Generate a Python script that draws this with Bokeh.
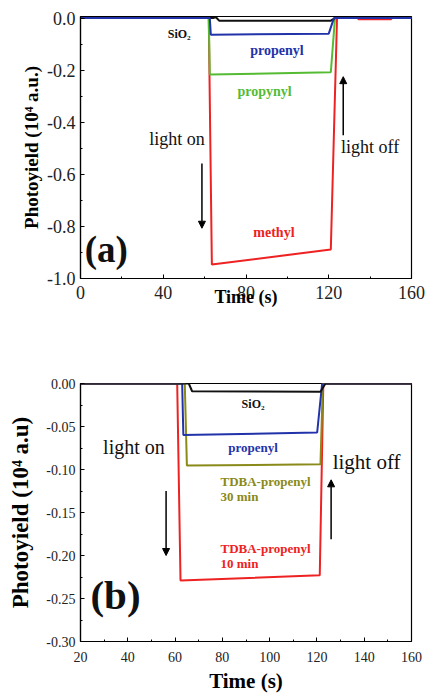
from bokeh.plotting import figure
from bokeh.layouts import column
from bokeh.models import FixedTicker, PrintfTickFormatter, Arrow, NormalHead, Label, Range1d
from bokeh.embed import file_html
from bokeh.resources import INLINE

SERIF = "Liberation Serif"

# ---------- panel (a) data ----------
a_sio2_t = [0, 64, 65.5, 67, 121, 123, 160]
a_sio2_y = [0, 0, 0.003, -0.010, -0.010, 0, 0]
a_propenyl_t = [0, 62.5, 63, 120, 122.5, 160]
a_propenyl_y = [0, 0, -0.064, -0.060, 0, 0]
a_propynyl_t = [0, 62, 62.5, 121, 123, 160]
a_propynyl_y = [0, 0, -0.217, -0.208, 0, 0]
a_methyl_t = [0, 62, 63.5, 121, 124, 134, 134.5, 150, 150.5, 160]
a_methyl_y = [0, 0, -0.946, -0.889, 0, 0, -0.005, -0.005, 0, 0]

a_xticks = [0, 40, 80, 120, 160]
a_xminor = [20, 60, 100, 140]
a_yticks = [-1.0, -0.8, -0.6, -0.4, -0.2, 0.0]
a_yminor = [-0.9, -0.7, -0.5, -0.3, -0.1]

# ---------- panel (b) data ----------
b_sio2_t = [20, 65.8, 67.2, 121.5, 123.6, 160]
b_sio2_y = [0, 0, -0.009, -0.0097, 0, 0]
b_propenyl_t = [20, 63, 63.5, 120.1, 122.2, 160]
b_propenyl_y = [0, 0, -0.060, -0.057, 0, 0]
b_tdba30_t = [20, 64.1, 65, 121.5, 122.5, 160]
b_tdba30_y = [0, 0, -0.0954, -0.094, 0, 0]
b_tdba10_t = [20, 60.9, 62.3, 121.2, 122.7, 160]
b_tdba10_y = [0, 0, -0.229, -0.223, 0, 0]

b_xticks = [20, 40, 60, 80, 100, 120, 140, 160]
b_xminor = [30, 50, 70, 90, 110, 130, 150]
b_yticks = [-0.30, -0.25, -0.20, -0.15, -0.10, -0.05, 0.0]
b_yminor = [-0.275, -0.225, -0.175, -0.125, -0.075, -0.025]

RED = "#ee2222"
GREEN = "#55bb33"
BLUE = "#2233aa"
OLIVE = "#8a8a1a"
BLACK = "#111111"


def style(p, xt, xm, yt, ym, xfmt, yfmt, tick_size, ylabel, ylab_size, xlab_size):
    p.xaxis.ticker = FixedTicker(ticks=xt, minor_ticks=xm)
    p.yaxis.ticker = FixedTicker(ticks=yt, minor_ticks=ym)
    p.xaxis.formatter = PrintfTickFormatter(format=xfmt)
    p.yaxis.formatter = PrintfTickFormatter(format=yfmt)
    for ax in (p.xaxis[0], p.yaxis[0]):
        ax.major_tick_in = 4
        ax.major_tick_out = 0
        ax.minor_tick_in = 2
        ax.minor_tick_out = 0
        ax.axis_line_color = "black"
        ax.axis_line_width = 1.2
        ax.major_tick_line_color = "black"
        ax.minor_tick_line_color = "black"
        ax.major_label_text_font = SERIF
        ax.major_label_text_font_size = tick_size
        ax.major_label_text_color = "#222222"
        ax.axis_label_text_font = SERIF
        ax.axis_label_text_font_style = "bold"
        ax.axis_label_text_color = "black"
    p.yaxis.axis_label_text_font_size = ylab_size
    p.xaxis.axis_label_text_font_size = xlab_size
    p.yaxis.axis_label = ylabel
    p.xaxis.axis_label = "Time (s)"
    p.grid.visible = False
    p.outline_line_color = "black"
    p.outline_line_width = 1.2
    p.outline_line_alpha = 1.0


def txt(p, x, y, s, color, size, bold=True, align="center"):
    p.add_layout(Label(x=x, y=y, text=s, text_color=color, text_font=SERIF,
                       text_font_size=size, text_font_style="bold" if bold else "normal",
                       text_align=align, text_baseline="middle"))


def arrow(p, x, y0, y1):
    p.add_layout(Arrow(end=NormalHead(size=7, fill_color="black", line_color="black"),
                       x_start=x, y_start=y0, x_end=x, y_end=y1,
                       line_color="black", line_width=1.5))


# ---------- figure (a) ----------
pa = figure(width=436, height=330, output_backend="svg", toolbar_location=None,
            x_range=Range1d(0, 160), y_range=Range1d(-1.0, 0.006),
            min_border_left=80, min_border_right=14, min_border_top=16, min_border_bottom=52)
style(pa, a_xticks, a_xminor, a_yticks, a_yminor, "%d", "%.1f", "18px",
      "Photoyield (10\u2074 a.u.)", "19px", "18px")
pa.xaxis.axis_label_standoff = -15
pa.xaxis.major_label_standoff = 7
pa.yaxis.axis_label_standoff = 2

pa.line(a_methyl_t, a_methyl_y, line_color=RED, line_width=2)
pa.line(a_propynyl_t, a_propynyl_y, line_color=GREEN, line_width=2)
pa.line(a_sio2_t, a_sio2_y, line_color=BLACK, line_width=2)
pa.line(a_propenyl_t, a_propenyl_y, line_color=BLUE, line_width=2)

txt(pa, 47.7, -0.06, "SiO\u2082", BLACK, "12px")
txt(pa, 95, -0.125, "propenyl", BLUE, "14px")
txt(pa, 89, -0.281, "propynyl", GREEN, "14px")
txt(pa, 93.5, -0.823, "methyl", RED, "14px")
txt(pa, 46.7, -0.463, "light on", BLACK, "18px", bold=False)
txt(pa, 140, -0.496, "light off", BLACK, "18px", bold=False)
txt(pa, 12.5, -0.89, "(a)", BLACK, "37px")
arrow(pa, 58.7, -0.558, -0.807)
arrow(pa, 127, -0.45, -0.225)

# ---------- figure (b) ----------
pb = figure(width=436, height=365, output_backend="svg", toolbar_location=None,
            x_range=Range1d(20, 160), y_range=Range1d(-0.30, 0.0),
            min_border_left=80, min_border_right=25, min_border_top=53, min_border_bottom=52)
style(pb, b_xticks, b_xminor, b_yticks, b_yminor, "%d", "%.2f", "14px",
      "Photoyield (10\u2074 a.u)", "23px", "21px")
pb.xaxis.major_label_standoff = 10
pb.xaxis.axis_label_standoff = 4
pb.yaxis.axis_label_standoff = 10

pb.line(b_tdba10_t, b_tdba10_y, line_color=RED, line_width=2)
pb.line(b_tdba30_t, b_tdba30_y, line_color=OLIVE, line_width=2)
pb.line(b_propenyl_t, b_propenyl_y, line_color=BLUE, line_width=2)
pb.line(b_sio2_t, b_sio2_y, line_color=BLACK, line_width=2)

txt(pb, 93, -0.0233, "SiO\u2082", BLACK, "12px")
txt(pb, 93, -0.074, "propenyl", BLUE, "13px")
txt(pb, 79.2, -0.114, "TDBA-propenyl", OLIVE, "13px", align="left")
txt(pb, 79.2, -0.131, "30 min", OLIVE, "13px", align="left")
txt(pb, 79.2, -0.192, "TDBA-propenyl", RED, "13px", align="left")
txt(pb, 79.2, -0.209, "10 min", RED, "13px", align="left")
txt(pb, 42.6, -0.0735, "light on", BLACK, "20px", bold=False)
txt(pb, 141, -0.091, "light off", BLACK, "21px", bold=False)
txt(pb, 34.8, -0.246, "(b)", BLACK, "41px")
arrow(pb, 56.2, -0.125, -0.2)
arrow(pb, 126, -0.181, -0.112)

layout = column(pa, pb, spacing=0)
open("out.html", "w").write(file_html(layout, INLINE))
